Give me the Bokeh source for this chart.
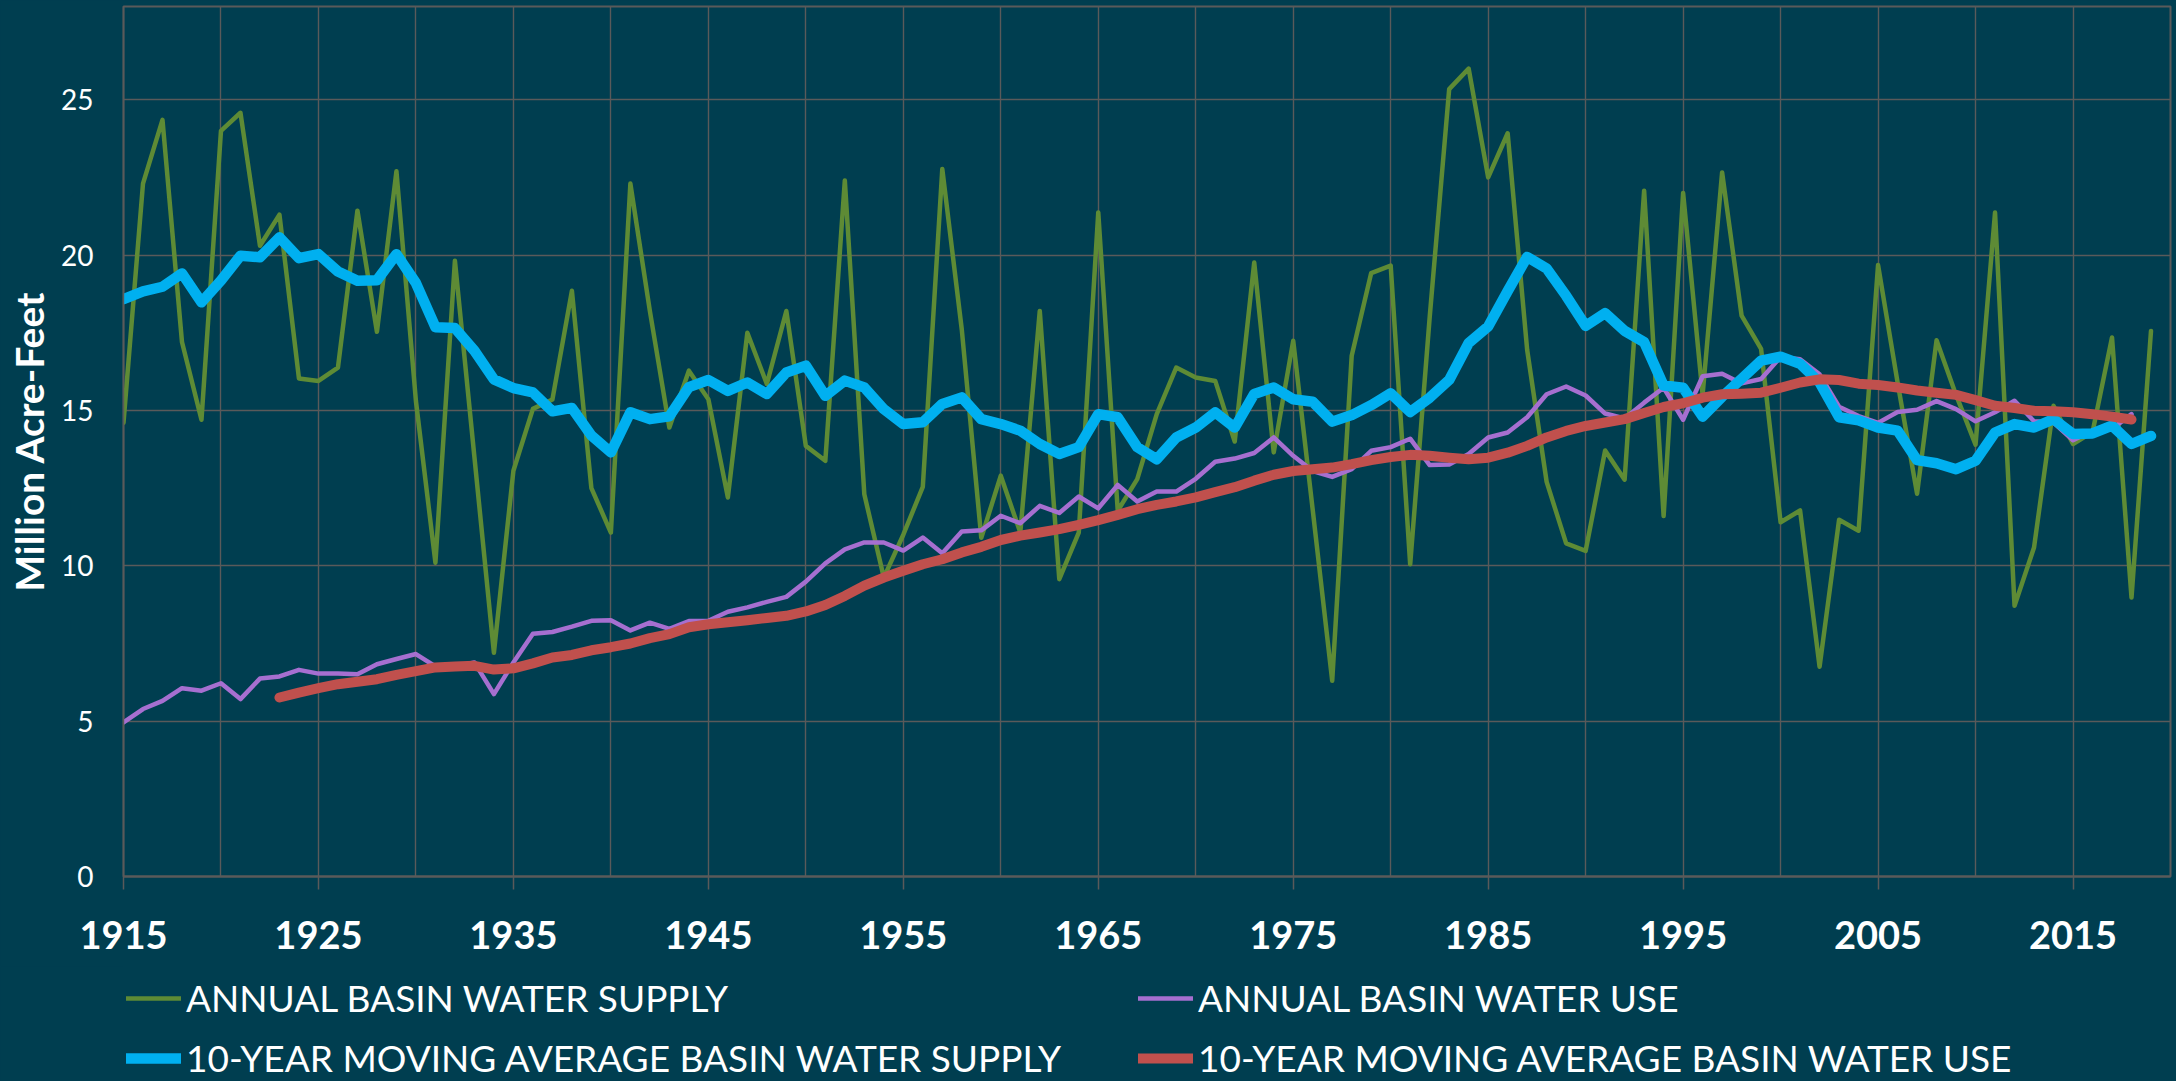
from bokeh.plotting import figure
from bokeh.models import Range1d, FixedTicker, Legend, LegendItem
from bokeh.layouts import column
from bokeh.embed import file_html
from bokeh.resources import INLINE

# ---------------- data ----------------
supply_years = list(range(1915, 2020))
annual_supply = [
    14.6, 22.3, 24.35, 17.2, 14.7, 24.0, 24.58, 20.3, 21.3, 16.03,
    15.95, 16.38, 21.43, 17.53, 22.7, 15.3, 10.1, 19.82, 13.5, 7.2,
    13.06, 15.05, 15.35, 18.85, 12.5, 11.07, 22.3, 18.2, 14.45, 16.28,
    15.36, 12.2, 17.5, 15.85, 18.2, 13.86, 13.38, 22.4, 12.3, 9.62,
    11.0, 12.54, 22.77, 17.6, 10.9, 12.9, 11.07, 18.2, 9.57, 11.07,
    21.37, 11.77, 12.79, 14.88, 16.38, 16.06, 15.95, 14.0, 19.76, 13.65,
    17.24, 11.8, 6.3, 16.76, 19.42, 19.66, 10.05, 18.0, 25.34, 26.0,
    22.5, 23.92, 16.95, 12.7, 10.72, 10.48, 13.71, 12.77, 22.07, 11.6,
    22.0, 15.5, 22.66, 18.05, 16.98, 11.4, 11.78, 6.75, 11.48, 11.13,
    19.68, 15.9, 12.32, 17.26, 15.5, 13.9, 21.37, 8.71, 10.59, 15.15,
    13.92, 14.3, 17.35, 8.98, 17.56,
]

use_years = list(range(1915, 2019))
annual_use = [
    4.96, 5.39, 5.65, 6.06, 5.98, 6.22, 5.71, 6.37, 6.44, 6.65,
    6.53, 6.53, 6.51, 6.83, 7.0, 7.16, 6.76, 6.76, 6.89, 5.87,
    6.89, 7.81, 7.87, 8.04, 8.23, 8.25, 7.92, 8.17, 7.97, 8.22,
    8.23, 8.52, 8.66, 8.84, 9.0, 9.49, 10.08, 10.53, 10.75, 10.75,
    10.49, 10.91, 10.4, 11.1, 11.14, 11.61, 11.37, 11.93, 11.7, 12.23,
    11.85, 12.6, 12.07, 12.39, 12.39, 12.8, 13.35, 13.45, 13.63, 14.13,
    13.54, 13.05, 12.86, 13.11, 13.7, 13.82, 14.09, 13.24, 13.26, 13.6,
    14.13, 14.29, 14.78, 15.52, 15.77, 15.48, 14.9, 14.74, 15.25, 15.73,
    14.7, 16.1, 16.18, 15.87, 16.01, 16.72, 16.65, 16.16, 15.12, 14.82,
    14.6, 14.95, 15.02, 15.3, 15.04, 14.65, 14.94, 15.31, 14.65, 14.61,
    14.04, 14.35, 14.4, 14.88,
]

ma_supply_years = list(range(1915, 2020))
ma_supply = [
    18.58, 18.83, 18.98, 19.41, 18.48, 19.18, 19.98, 19.93, 20.57, 19.9,
    20.03, 19.47, 19.17, 19.19, 20.03, 19.1, 17.68, 17.65, 16.92, 16.0,
    15.72, 15.58, 14.97, 15.08, 14.19, 13.65, 14.94, 14.72, 14.81, 15.75,
    15.98, 15.63, 15.9, 15.53, 16.22, 16.44, 15.47, 15.96, 15.74, 15.04,
    14.56, 14.62, 15.21, 15.42, 14.72, 14.56, 14.35, 13.92, 13.6, 13.82,
    14.88, 14.78, 13.82, 13.43, 14.13, 14.45, 14.94, 14.45, 15.53, 15.74,
    15.36, 15.28, 14.64, 14.85, 15.17, 15.55, 14.95, 15.41, 15.98, 17.17,
    17.7, 18.84, 19.94, 19.57, 18.69, 17.72, 18.13, 17.56, 17.2, 15.8,
    15.73, 14.8, 15.44, 16.02, 16.6, 16.73, 16.5, 15.9, 14.78, 14.68,
    14.45, 14.35, 13.4, 13.3, 13.11, 13.38, 14.29, 14.56, 14.45, 14.72,
    14.24, 14.26, 14.51, 13.92, 14.18,
]

ma_use_years = list(range(1923, 2019))
ma_use = [
    5.76, 5.92, 6.06, 6.19, 6.27, 6.35, 6.49, 6.61, 6.73, 6.76,
    6.78, 6.66, 6.7, 6.86, 7.05, 7.13, 7.28, 7.38, 7.5, 7.67,
    7.8, 8.02, 8.12, 8.18, 8.25, 8.32, 8.39, 8.53, 8.74, 9.03,
    9.36, 9.62, 9.84, 10.05, 10.21, 10.43, 10.61, 10.83, 10.97, 11.07,
    11.18, 11.32, 11.47, 11.64, 11.82, 11.96, 12.07, 12.2, 12.37, 12.53,
    12.74, 12.93, 13.05, 13.11, 13.16, 13.27, 13.4, 13.5, 13.57, 13.54,
    13.48, 13.43, 13.48, 13.64, 13.86, 14.13, 14.34, 14.5, 14.61, 14.72,
    14.92, 15.11, 15.23, 15.41, 15.52, 15.54, 15.57, 15.73, 15.9, 16.0,
    15.98, 15.86, 15.82, 15.74, 15.64, 15.57, 15.5, 15.33, 15.15, 15.08,
    14.99, 14.97, 14.94, 14.88, 14.8, 14.71,
]

x_label_years = list(range(1915, 2016, 10))
x_grid_years = list(range(1915, 2021, 5))
y_ticks = [0, 5, 10, 15, 20, 25]
series_labels = [
    "ANNUAL BASIN WATER SUPPLY",
    "ANNUAL BASIN WATER USE",
    "10-YEAR MOVING AVERAGE BASIN WATER SUPPLY",
    "10-YEAR MOVING AVERAGE BASIN WATER USE",
]
y_title = "Million Acre-Feet"

# ---------------- style ----------------
BG = "#003E50"
GRID = "#5a5a5a"
FONT = "Lato"
W = 2176
H_MAIN = 966
H_LEG = 115
LEFT = 123
RIGHT = 6
styles = [
    dict(line_color="#5E8B35", line_width=4.5),
    dict(line_color="#A66FD0", line_width=4.5),
    dict(line_color="#00B0F0", line_width=10.5),
    dict(line_color="#C0504D", line_width=10),
]

p = figure(width=W, height=H_MAIN, output_backend="svg", toolbar_location=None,
           x_range=Range1d(1915, 2020), y_range=Range1d(0, 28),
           min_border_left=LEFT, min_border_right=RIGHT, min_border_top=6,
           min_border_bottom=H_MAIN - 876)
p.background_fill_color = BG
p.border_fill_color = BG
p.outline_line_color = GRID
p.outline_line_width = 2

p.xgrid.ticker = FixedTicker(ticks=x_grid_years)
p.ygrid.ticker = FixedTicker(ticks=y_ticks)
p.grid.grid_line_color = GRID
p.grid.grid_line_width = 1.4

p.xaxis.ticker = FixedTicker(ticks=x_label_years)
p.xaxis.axis_line_color = GRID
p.xaxis.axis_line_width = 2
p.xaxis.major_tick_line_color = GRID
p.xaxis.major_tick_line_width = 1.5
p.xaxis.major_tick_out = 13
p.xaxis.major_tick_in = 0
p.xaxis.minor_tick_out = 0
p.xaxis.minor_tick_in = 0
p.xaxis.major_label_standoff = 31
p.xaxis.major_label_text_font = FONT
p.xaxis.major_label_text_font_style = "bold"
p.xaxis.major_label_text_font_size = "38px"
p.xaxis.major_label_text_color = "white"

p.yaxis.ticker = FixedTicker(ticks=y_ticks)
p.yaxis.axis_line_color = GRID
p.yaxis.axis_line_width = 1.4
p.yaxis.major_tick_out = 0
p.yaxis.major_tick_in = 0
p.yaxis.minor_tick_out = 0
p.yaxis.minor_tick_in = 0
p.yaxis.major_label_standoff = 30
p.yaxis.major_label_text_font = FONT
p.yaxis.major_label_text_font_size = "28px"
p.yaxis.major_label_text_color = "white"
p.yaxis.axis_label = y_title
p.yaxis.axis_label_text_font = FONT
p.yaxis.axis_label_text_font_style = "bold"
p.yaxis.axis_label_text_font_size = "39px"
p.yaxis.axis_label_text_color = "white"
p.yaxis.axis_label_standoff = 6

for xs, ys, st in [(supply_years, annual_supply, styles[0]),
                   (use_years, annual_use, styles[1]),
                   (ma_supply_years, ma_supply, styles[2]),
                   (ma_use_years, ma_use, styles[3])]:
    p.line(xs, ys, line_join="round", line_cap="round", **st)

# ---------------- legend strip (second figure) ----------------
lf = figure(width=W, height=H_LEG, output_backend="svg", toolbar_location=None,
            x_range=Range1d(0, 1), y_range=Range1d(0, 1),
            x_axis_type=None, y_axis_type=None,
            min_border_left=LEFT, min_border_right=RIGHT, min_border_top=0,
            min_border_bottom=0)
lf.border_fill_color = BG
lf.background_fill_color = BG
lf.outline_line_color = BG
lf.outline_line_width = 3
lf.grid.visible = False

# legend keys: same styles, points placed outside the visible range
key_x = [-5, -4]
key_y = [-5, -4]
keys = [lf.line(key_x, key_y, line_join="round", line_cap="round", **st) for st in styles]

def make_legend(idx, x):
    items = [LegendItem(label=series_labels[i], renderers=[keys[i]]) for i in idx]
    leg = Legend(items=items, location=(x, 1))
    leg.background_fill_color = BG
    leg.border_line_color = None
    leg.padding = 0
    leg.margin = 0
    leg.spacing = 15
    leg.glyph_width = 55
    leg.glyph_height = 40
    leg.label_height = 40
    leg.label_standoff = 5
    leg.label_text_font = FONT
    leg.label_text_font_size = "37px"
    leg.label_text_color = "white"
    return leg

lf.add_layout(make_legend([0, 2], 3))
lf.add_layout(make_legend([1, 3], 1015))

layout = column(p, lf, spacing=0, styles={"background-color": BG})
open("out.html", "w").write(file_html(layout, INLINE))
